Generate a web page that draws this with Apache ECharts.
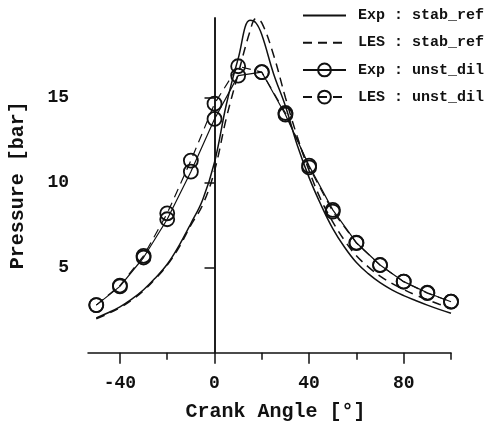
<!DOCTYPE html>
<html>
<head>
<meta charset="utf-8">
<script src="https://cdn.jsdelivr.net/npm/echarts@6/dist/echarts.min.js"></script>
<style>
html, body { margin: 0; background: #fff; }
#miGrafica { width: 499px; height: 425px; }
</style>
</head>
<body>
<div id="miGrafica"></div>
<script>
// Pressure traces

var stabAngles = [-50, -45, -40, -35, -30, -25, -20, -15, -10, -5, 0, 5, 10, 15, 17.5, 20, 25, 30, 35, 40, 45, 50, 55, 60, 65, 70, 75, 80, 85, 90, 95, 100];
var expStab = [2.05, 2.35, 2.7, 3.15, 3.7, 4.4, 5.2, 6.3, 7.6, 9.0, 11.2, 14.6, 17.3, 19.55, 19.4, 18.7, 16.4, 14.5, 12.2, 10.3, 8.7, 7.3, 6.2, 5.3, 4.65, 4.12, 3.7, 3.36, 3.07, 2.8, 2.55, 2.32];
var lesStab = [2.0, 2.3, 2.65, 3.1, 3.65, 4.35, 5.15, 6.2, 7.5, 8.7, 10.7, 13.8, 16.4, 18.9, 19.65, 19.4, 17.5, 15.0, 12.7, 10.7, 9.0, 7.7, 6.6, 5.7, 5.05, 4.5, 4.08, 3.72, 3.4, 3.12, 2.85, 2.62];

var dilAngles = [-50, -40, -30, -20, -10, 0, 10, 20, 30, 40, 50, 60, 70, 80, 90, 100];
var expDil = [2.8, 3.9, 5.6, 7.85, 10.65, 13.75, 16.3, 16.5, 14.0, 11.0, 8.4, 6.47, 5.16, 4.18, 3.53, 3.0];
var lesDil = [2.8, 3.95, 5.7, 8.2, 11.3, 14.65, 16.85, 16.5, 14.1, 10.9, 8.3, 6.45, 5.15, 4.18, 3.5, 3.0];

var xMajor = [-40, 0, 40, 80];
var xMinor = [-20, 20, 60, 100];
var yTicks = [5, 10, 15];

function pares(xs, ys) {
    return xs.map(function (x, i) { return [x, ys[i]]; });
}

var negro = '#111';
var hueco = 'rgba(0,0,0,0)';
var fuente = 'Liberation Mono';

var dom = document.getElementById('miGrafica');
var myChart = echarts.init(dom, null, { renderer: 'canvas' });

var option = {
    animation: false,
    backgroundColor: '#fff',
    grid: { left: 88, right: 48, top: 17.8, bottom: 72.3, outerBoundsMode: 'none' },
    legend: {
        orient: 'vertical',
        left: 297,
        top: 3,
        itemWidth: 43,
        itemHeight: 16,
        itemGap: 12.2,
        textStyle: { fontFamily: fuente, fontWeight: 'bold', fontSize: 15, color: negro, padding: [0, 0, 0, 7] },
        data: ['Exp : stab_ref', 'LES : stab_ref', 'Exp : unst_dil', 'LES : unst_dil']
    },
    xAxis: [
        {
            type: 'value', min: -53.5, max: 100, position: 'bottom',
            name: 'Crank Angle [°]', nameLocation: 'middle', nameGap: 49,
            nameTextStyle: { fontFamily: fuente, fontWeight: 'bold', fontSize: 20, color: negro, padding: [0, 0, 0, 12] },
            axisLine: { lineStyle: { color: negro, width: 1.5 } },
            axisTick: { customValues: xMajor, length: 11, lineStyle: { color: negro, width: 1.5 } },
            axisLabel: { customValues: xMajor, margin: 22, fontFamily: fuente, fontWeight: 'bold', fontSize: 18, color: negro },
            splitLine: { show: false }
        },
        {
            type: 'value', min: -53.5, max: 100, position: 'bottom',
            axisLine: { show: false },
            axisTick: { customValues: xMinor, length: 7, lineStyle: { color: negro, width: 1.5 } },
            axisLabel: { show: false },
            splitLine: { show: false }
        }
    ],
    yAxis: {
        type: 'value', min: 0, max: 19.7,
        name: 'Pressure [bar]', nameLocation: 'middle', nameGap: 60,
        nameTextStyle: { fontFamily: fuente, fontWeight: 'bold', fontSize: 20, color: negro },
        axisLine: { lineStyle: { color: negro, width: 1.5 } },
        axisTick: { customValues: yTicks, length: 10, lineStyle: { color: negro, width: 1.5 } },
        axisLabel: { customValues: yTicks, margin: 19, fontFamily: fuente, fontWeight: 'bold', fontSize: 18, color: negro },
        splitLine: { show: false }
    },
    series: [
        {
            name: 'Exp : stab_ref', type: 'line', data: pares(stabAngles, expStab),
            smooth: 0.4, symbol: 'none',
            lineStyle: { color: negro, width: 1.5 },
            itemStyle: { color: hueco },     // no marker in the legend
            markLine: {                       // vertical line at TDC
                silent: true, symbol: ['none', 'none'],
                label: { show: false },
                lineStyle: { color: negro, type: 'solid', width: 1.5 },
                data: [{ xAxis: 0 }]
            }
        },
        {
            name: 'LES : stab_ref', type: 'line', data: pares(stabAngles, lesStab),
            smooth: 0.4, symbol: 'none',
            lineStyle: { color: negro, width: 1.5, type: [9, 6] },
            itemStyle: { color: hueco }
        },
        {
            name: 'Exp : unst_dil', type: 'line', data: pares(dilAngles, expDil),
            symbol: 'circle', symbolSize: 14,
            lineStyle: { color: negro, width: 1.2 },
            itemStyle: { color: hueco, borderColor: negro, borderWidth: 1.8 }
        },
        {
            name: 'LES : unst_dil', type: 'line', data: pares(dilAngles, lesDil),
            symbol: 'circle', symbolSize: 14,
            lineStyle: { color: negro, width: 1.2, type: [9, 6] },
            itemStyle: { color: hueco, borderColor: negro, borderWidth: 1.8 }
        }
    ]
};

if (option && typeof option === 'object') {
    myChart.setOption(option);
}

window.addEventListener('resize', myChart.resize);
</script>
</body>
</html>
